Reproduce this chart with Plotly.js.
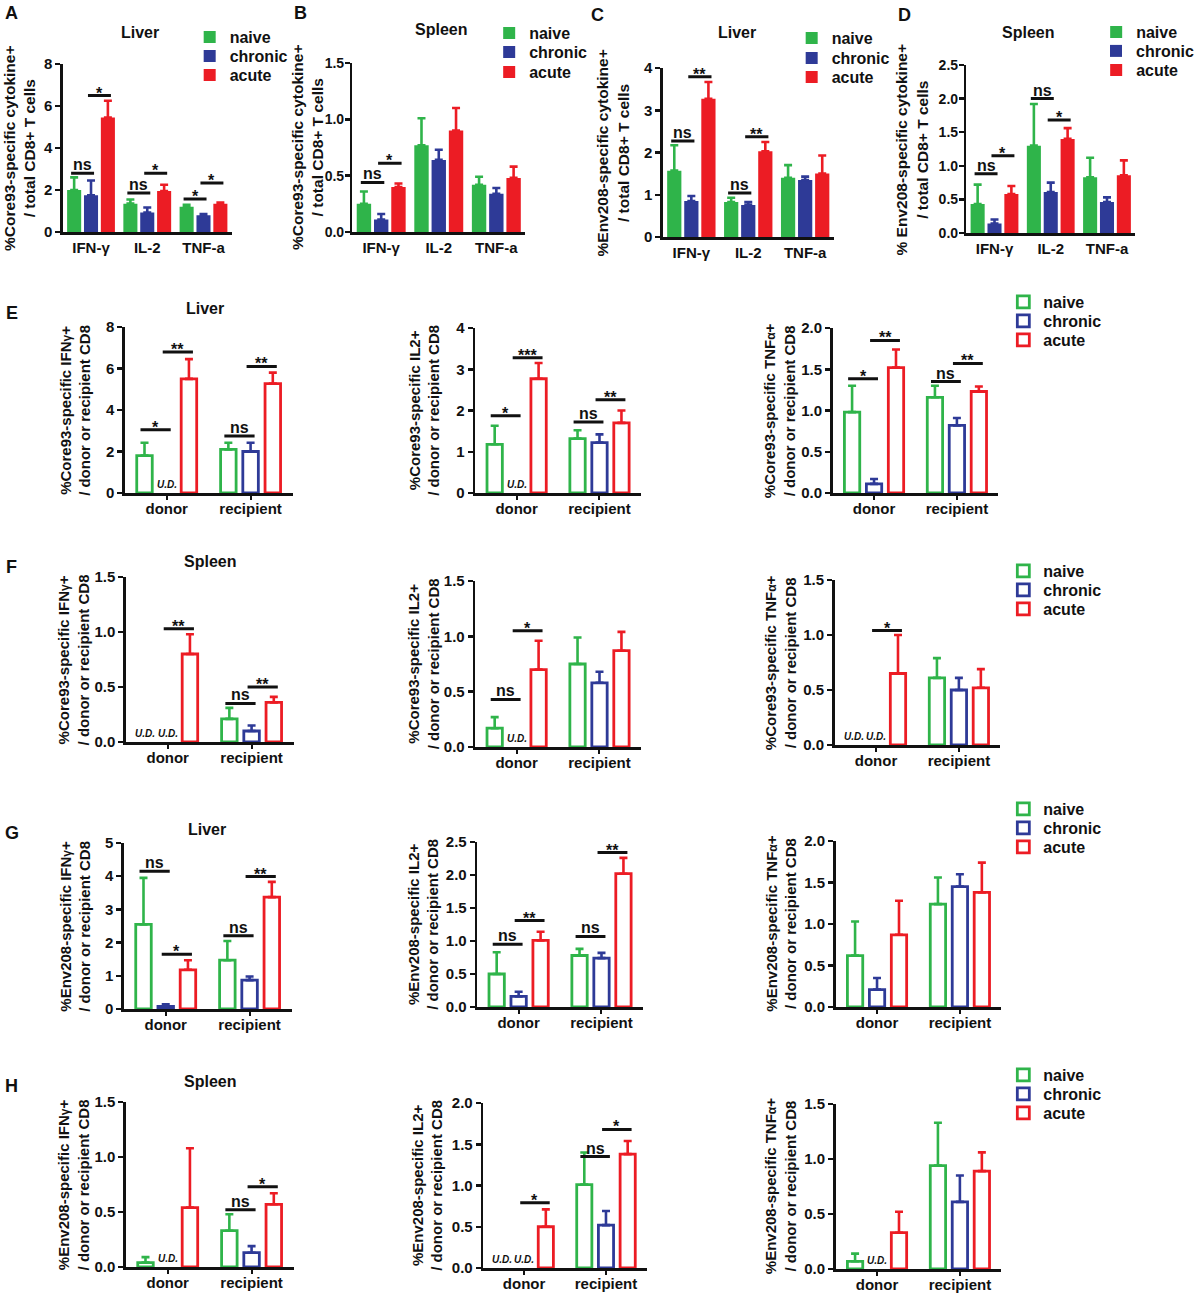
<!DOCTYPE html>
<html>
<head>
<meta charset="utf-8">
<script src="https://cdn.plot.ly/plotly-3.0.1.min.js"></script>
<style>html,body{margin:0;padding:0;background:#fff}</style>
</head>
<body>
<div id="chart" style="width:1199px;height:1295px"></div>
<script>
// ================= DATA =================
const series = ['naive', 'chronic', 'acute'];
const cytokineCats = ['IFN-γ', 'IL-2', 'TNF-a'];
const originCats = ['donor', 'recipient'];

// means per series [naive, chronic, acute]; sem = upper error; null = U.D.
// A: Core93, Liver
const A_mean = [[2.00, 1.35, 1.20], [1.75, 0.93, 0.80], [5.45, 1.95, 1.35]];
const A_sem  = [[0.60, 0.20, 0.10], [0.70, 0.24, 0.05], [0.80, 0.30, 0.05]];
// significance: [category, fromSeries, toSeries, level, label]
const A_sig  = [[0, 0, 1, 2.8, 'ns'], [0, 1, 2, 6.5, '*'], [1, 0, 1, 1.86, 'ns'], [1, 1, 2, 2.8, '*'], [2, 0, 1, 1.57, '*'], [2, 1, 2, 2.33, '*']];
// B: Core93, Spleen
const B_mean = [[0.25, 0.77, 0.42], [0.11, 0.64, 0.34], [0.40, 0.90, 0.48]];
const B_sem  = [[0.11, 0.24, 0.07], [0.05, 0.09, 0.05], [0.03, 0.20, 0.10]];
const B_sig  = [[0, 0, 1, 0.44, 'ns'], [0, 1, 2, 0.61, '*']];
// C: Env208, Liver
const C_mean = [[1.57, 0.83, 1.40], [0.85, 0.76, 1.35], [3.27, 2.03, 1.50]];
const C_sem  = [[0.60, 0.10, 0.30], [0.12, 0.07, 0.08], [0.40, 0.22, 0.43]];
const C_sig  = [[0, 0, 1, 2.27, 'ns'], [0, 1, 2, 3.79, '**'], [1, 0, 1, 1.04, 'ns'], [1, 1, 2, 2.37, '**']];
// D: Env208, Spleen
const D_mean = [[0.43, 1.30, 0.83], [0.14, 0.61, 0.46], [0.58, 1.40, 0.86]];
const D_sem  = [[0.29, 0.62, 0.29], [0.06, 0.14, 0.07], [0.12, 0.16, 0.22]];
const D_sig  = [[0, 0, 1, 0.88, 'ns'], [0, 1, 2, 1.15, '*'], [1, 0, 1, 2.0, 'ns'], [1, 1, 2, 1.68, '*']];

// E: Core93 Liver (IFNg, IL2, TNFa)
const E1_mean = [[1.80, 2.10], [null, 2.00], [5.50, 5.27]];
const E1_sem  = [[0.62, 0.32], [null, 0.42], [0.95, 0.53]];
const E1_sig  = [[0, 0, 1, 3.05, '*'], [0, 1, 2, 6.8, '**'], [1, 0, 1, 2.75, 'ns'], [1, 1, 2, 6.1, '**']];
const E2_mean = [[1.18, 1.32], [null, 1.22], [2.77, 1.70]];
const E2_sem  = [[0.45, 0.20], [null, 0.20], [0.38, 0.30]];
const E2_sig  = [[0, 0, 1, 1.87, '*'], [0, 1, 2, 3.28, '***'], [1, 0, 1, 1.72, 'ns'], [1, 1, 2, 2.26, '**']];
const E3_mean = [[0.98, 1.16], [0.11, 0.82], [1.52, 1.23]];
const E3_sem  = [[0.32, 0.14], [0.06, 0.09], [0.22, 0.06]];
const E3_sig  = [[0, 0, 1, 1.385, '*'], [0, 1, 2, 1.85, '**'], [1, 0, 1, 1.35, 'ns'], [1, 1, 2, 1.57, '**']];
// F: Core93 Spleen
const F1_mean = [[null, 0.21], [null, 0.10], [0.80, 0.36]];
const F1_sem  = [[null, 0.10], [null, 0.05], [0.18, 0.05]];
const F1_sig  = [[0, 1, 2, 1.03, '**'], [1, 0, 1, 0.35, 'ns'], [1, 1, 2, 0.50, '**']];
const F2_mean = [[0.17, 0.75], [null, 0.58], [0.70, 0.87]];
const F2_sem  = [[0.10, 0.24], [null, 0.10], [0.26, 0.17]];
const F2_sig  = [[0, 0, 1, 0.43, 'ns'], [0, 1, 2, 1.05, '*']];
const F3_mean = [[null, 0.61], [null, 0.50], [0.65, 0.52]];
const F3_sem  = [[null, 0.18], [null, 0.11], [0.35, 0.17]];
const F3_sig  = [[0, 1, 2, 1.04, '*']];
// G: Env208 Liver
const G1_mean = [[2.55, 1.47], [0.08, 0.87], [1.18, 3.37]];
const G1_sem  = [[1.40, 0.58], [0.06, 0.11], [0.29, 0.46]];
const G1_sig  = [[0, 0, 1, 4.15, 'ns'], [0, 1, 2, 1.65, '*'], [1, 0, 1, 2.21, 'ns'], [1, 1, 2, 3.99, '**']];
const G2_mean = [[0.50, 0.78], [0.16, 0.74], [1.01, 2.02]];
const G2_sem  = [[0.33, 0.10], [0.07, 0.08], [0.13, 0.24]];
const G2_sig  = [[0, 0, 1, 0.95, 'ns'], [0, 1, 2, 1.31, '**'], [1, 0, 1, 1.07, 'ns'], [1, 1, 2, 2.34, '**']];
const G3_mean = [[0.62, 1.24], [0.21, 1.45], [0.87, 1.38]];
const G3_sem  = [[0.41, 0.32], [0.14, 0.15], [0.41, 0.36]];
const G3_sig  = [];
// H: Env208 Spleen
const H1_mean = [[0.04, 0.33], [null, 0.13], [0.54, 0.57]];
const H1_sem  = [[0.05, 0.15], [null, 0.06], [0.54, 0.10]];
const H1_sig  = [[1, 0, 1, 0.52, 'ns'], [1, 1, 2, 0.73, '*']];
const H2_mean = [[null, 1.01], [null, 0.52], [0.50, 1.38]];
const H2_sem  = [[null, 0.39], [null, 0.17], [0.21, 0.16]];
const H2_sig  = [[0, 1, 2, 0.79, '*'], [1, 0, 1, 1.35, 'ns'], [1, 1, 2, 1.68, '*']];
const H3_mean = [[0.07, 0.94], [null, 0.61], [0.33, 0.89]];
const H3_sem  = [[0.07, 0.39], [null, 0.24], [0.19, 0.17]];
const H3_sig  = [];

// text labels
const sm = s => '<span style="font-size:12px">' + s + '</span>';
const yTitles = [
  '%Core93-specific cytokine+<br>/ total CD8+ T cells',
  '%Core93-specific cytokine+<br>/ total CD8+ T cells',
  '%Env208-specific cytokine+<br>/ total CD8+ T cells',
  '% Env208-specific cytokine+<br>/ total CD8+ T cells',
  '%Core93-specific IFN' + sm('γ') + '+<br>/ donor or recipient CD8',
  '%Core93-specific IL2+<br>/ donor or recipient CD8',
  '%Core93-specific TNF' + sm('α') + '+<br>/ donor or recipient CD8',
  '%Core93-specific IFN' + sm('γ') + '+<br>/ donor or recipient CD8',
  '%Core93-specific IL2+<br>/ donor or recipient CD8',
  '%Core93-specific TNF' + sm('α') + '+<br>/ donor or recipient CD8',
  '%Env208-specific IFN' + sm('γ') + '+<br>/ donor or recipient CD8',
  '%Env208-specific IL2+<br>/ donor or recipient CD8',
  '%Env208-specific TNF' + sm('α') + '+<br>/ donor or recipient CD8',
  '%Env208-specific IFN' + sm('γ') + '+<br>/ donor or recipient CD8',
  '%Env208-specific IL2+<br>/ donor or recipient CD8',
  '%Env208-specific TNF' + sm('α') + '+<br>/ donor or recipient CD8'
];
const panelLetters = ['A', 'B', 'C', 'D', 'E', 'F', 'G', 'H'];
const tissueTitles = ['Liver', 'Spleen', 'Liver', 'Spleen', 'Liver', 'Spleen', 'Liver', 'Spleen'];

// ================= LAYOUT / STYLE =================
const W = 1199, H = 1295;
const FONT = 'Arial, "Liberation Sans", Helvetica, sans-serif';
const INK = '#111111';
const COLORS = ['#2fb44a', '#2e3a97', '#ec1c24'];
const bold = (size) => ({family: FONT, size: size, color: INK, weight: 'bold'});

// box = [xLeft, xRight, yTop, yBottom] in px; leg = [textX, itemY1, itemY2, itemY3]
const panels = [
  {mean: A_mean, sem: A_sem, sig: A_sig, cats: cytokineCats, box: [63, 232, 64, 232], ymax: 8, dt: 2, fmt: '', tx: 19, leg: [230, 37, 56, 75]},
  {mean: B_mean, sem: B_sem, sig: B_sig, cats: cytokineCats, box: [353, 526, 63, 232], ymax: 1.5, dt: 0.5, fmt: '.1f', tx: 308, leg: [530, 33, 52, 72]},
  {mean: C_mean, sem: C_sem, sig: C_sig, cats: cytokineCats, box: [664, 835, 68, 237], ymax: 4, dt: 1, fmt: '', tx: 614, leg: [833, 38, 58, 77]},
  {mean: D_mean, sem: D_sem, sig: D_sig, cats: cytokineCats, box: [968, 1137, 65, 233], ymax: 2.5, dt: 0.5, fmt: '.1f', tx: 913, leg: [1138, 32, 51, 70]},
  {mean: E1_mean, sem: E1_sem, sig: E1_sig, cats: originCats, box: [125, 293, 327, 493], ymax: 8, dt: 2, fmt: '', tx: 75},
  {mean: E2_mean, sem: E2_sem, sig: E2_sig, cats: originCats, box: [476, 642, 328, 493], ymax: 4, dt: 1, fmt: '', tx: 425},
  {mean: E3_mean, sem: E3_sem, sig: E3_sig, cats: originCats, box: [834, 1000, 328, 493], ymax: 2, dt: 0.5, fmt: '.1f', tx: 781, leg: [1045, 302, 321, 340]},
  {mean: F1_mean, sem: F1_sem, sig: F1_sig, cats: originCats, box: [126, 294, 577, 742], ymax: 1.5, dt: 0.5, fmt: '.1f', tx: 74},
  {mean: F2_mean, sem: F2_sem, sig: F2_sig, cats: originCats, box: [476, 642, 581, 747], ymax: 1.5, dt: 0.5, fmt: '.1f', tx: 424},
  {mean: F3_mean, sem: F3_sem, sig: F3_sig, cats: originCats, box: [836, 1002, 580, 745], ymax: 1.5, dt: 0.5, fmt: '.1f', tx: 782, leg: [1045, 571, 590, 609]},
  {mean: G1_mean, sem: G1_sem, sig: G1_sig, cats: originCats, box: [124, 292, 843, 1009], ymax: 5, dt: 1, fmt: '', tx: 75},
  {mean: G2_mean, sem: G2_sem, sig: G2_sig, cats: originCats, box: [478, 644, 842, 1007], ymax: 2.5, dt: 0.5, fmt: '.1f', tx: 424},
  {mean: G3_mean, sem: G3_sem, sig: G3_sig, cats: originCats, box: [837, 1003, 841, 1007], ymax: 2, dt: 0.5, fmt: '.1f', tx: 782, leg: [1045, 809, 828, 847]},
  {mean: H1_mean, sem: H1_sem, sig: H1_sig, cats: originCats, box: [126, 294, 1102, 1267], ymax: 1.5, dt: 0.5, fmt: '.1f', tx: 74},
  {mean: H2_mean, sem: H2_sem, sig: H2_sig, cats: originCats, box: [484, 648, 1103, 1268], ymax: 2, dt: 0.5, fmt: '.1f', tx: 428},
  {mean: H3_mean, sem: H3_sem, sig: H3_sig, cats: originCats, box: [837, 1003, 1104, 1269], ymax: 1.5, dt: 0.5, fmt: '.1f', tx: 782, leg: [1045, 1075, 1094, 1113]}
];

const letterPos = [[12, 13], [301, 13], [598, 15], [906, 15], [12, 313], [12, 567], [12, 833], [12, 1086]];
const tissuePos = [[140, 32], [442, 30], [738, 33], [1030, 32], [205, 308], [210, 561], [207, 829], [210, 1081]];

const traces = [];
const layout = {
  width: W, height: H, margin: {l: 0, r: 0, t: 0, b: 0},
  paper_bgcolor: '#ffffff', plot_bgcolor: 'rgba(0,0,0,0)',
  font: bold(16), barmode: 'overlay', showlegend: true,
  annotations: [], shapes: []
};

let legendCount = 0;
panels.forEach((p, k) => {
  const n = k + 1;
  const sx = n === 1 ? '' : String(n);
  const xa = 'x' + sx, ya = 'y' + sx;
  const filled = p.cats === cytokineCats;
  const decimal = p.fmt !== '';
  const slot = filled ? 0.30 : 0.265;
  const bw = filled ? 0.25 : 0.185;
  const xs = p.cats.map((c, j) => j);
  series.forEach((s, i) => {
    const t = {
      type: 'bar', name: s, x: xs, y: p.mean[i], xaxis: xa, yaxis: ya,
      offset: (i - 1.5) * slot + (slot - bw) / 2, width: bw,
      marker: filled ? {color: COLORS[i], line: {width: 0}}
                     : {color: '#ffffff', line: {color: COLORS[i], width: 2.8}},
      error_y: {type: 'data', symmetric: false, array: p.sem[i],
                arrayminus: p.sem[i].map(v => 0), color: COLORS[i], thickness: 2.6, width: 4},
      hoverinfo: 'skip', showlegend: !!p.leg
    };
    if (p.leg) {
      legendCount += 1;
      const legId = legendCount === 1 ? 'legend' : 'legend' + legendCount;
      t.legend = legId;
      layout[legId] = {
        x: (p.leg[0] - 40) / W, y: 1 - p.leg[i + 1] / H, xanchor: 'left', yanchor: 'middle',
        bgcolor: 'rgba(0,0,0,0)', borderwidth: 0, font: bold(16),
        tracegroupgap: 0, itemclick: false, itemdoubleclick: false
      };
    }
    traces.push(t);
    // U.D. labels where value is undetected
    p.mean[i].forEach((v, j) => {
      if (v === null) {
        layout.annotations.push({
          xref: xa, yref: ya, x: j + (i - 1) * slot, y: 0, yanchor: 'bottom', xanchor: 'center',
          text: '<i>U.D.</i>', showarrow: false, font: bold(10), yshift: 1
        });
      }
    });
  });

  const [x0, x1, yt, yb] = p.box;
  layout['xaxis' + sx] = {
    domain: [x0 / W, x1 / W], anchor: ya, range: [-0.5, p.cats.length - 0.5],
    tickmode: 'array', tickvals: xs, ticktext: p.cats,
    showline: true, linecolor: INK, linewidth: 2.5, mirror: false,
    ticks: filled ? '' : 'outside', ticklen: 4, tickwidth: 2, tickcolor: INK,
    ticklabelstandoff: filled ? 0 : -4,
    showgrid: false, zeroline: false, fixedrange: true, tickfont: bold(15)
  };
  layout['yaxis' + sx] = {
    domain: [1 - yb / H, 1 - yt / H], anchor: xa, range: [0, p.ymax],
    tickmode: 'linear', tick0: 0, dtick: p.dt, tickformat: p.fmt,
    showline: true, linecolor: INK, linewidth: 2.5,
    ticks: 'outside', ticklen: 5, tickwidth: 2.5, tickcolor: INK,
    ticklabelstandoff: (filled && decimal) ? -2 : 0,
    showgrid: false, zeroline: false, fixedrange: true, tickfont: bold((filled && decimal) ? 14 : 15)
  };

  // y axis title as rotated text
  layout.annotations.push({
    xref: 'paper', yref: 'paper', x: p.tx / W, y: 1 - ((yt + yb) / 2) / H,
    xanchor: 'center', yanchor: 'middle', textangle: -90, showarrow: false,
    text: yTitles[k], font: bold(filled ? 15.5 : 15)
  });

  // significance bars
  p.sig.forEach(([c, a, b, lev, lab]) => {
    const xa0 = c + (a - 1) * slot - 0.18 * slot;
    const xa1 = c + (b - 1) * slot + 0.18 * slot;
    layout.shapes.push({type: 'line', xref: xa, yref: ya, x0: xa0, x1: xa1, y0: lev, y1: lev,
                        line: {color: INK, width: 3}});
    layout.annotations.push({
      xref: xa, yref: ya, x: (xa0 + xa1) / 2, y: lev, xanchor: 'center', yanchor: 'bottom',
      text: lab, showarrow: false, font: bold(16), yshift: lab === 'ns' ? -2 : -8
    });
  });
});

panelLetters.forEach((L, i) => {
  layout.annotations.push({xref: 'paper', yref: 'paper', x: letterPos[i][0] / W, y: 1 - letterPos[i][1] / H,
    xanchor: 'center', yanchor: 'middle', text: L, showarrow: false, font: bold(18)});
});
tissueTitles.forEach((T, i) => {
  layout.annotations.push({xref: 'paper', yref: 'paper', x: tissuePos[i][0] / W, y: 1 - tissuePos[i][1] / H,
    xanchor: 'center', yanchor: 'middle', text: T, showarrow: false, font: bold(16)});
});

Plotly.newPlot('chart', traces, layout, {displayModeBar: false, staticPlot: true});
</script>
</body>
</html>
